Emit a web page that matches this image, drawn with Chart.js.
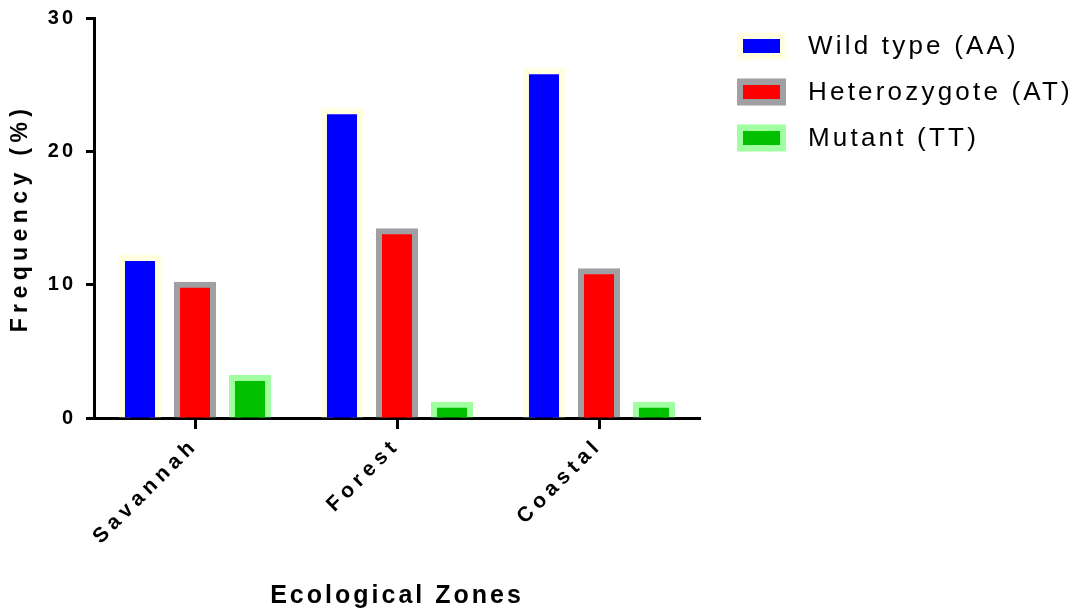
<!DOCTYPE html>
<html>
<head>
<meta charset="utf-8">
<title>Genotype frequency by ecological zone</title>
<script src="https://cdn.jsdelivr.net/npm/chart.js@4/dist/chart.umd.min.js"></script>
<style>
  html, body { margin: 0; padding: 0; background: #ffffff; }
  #wrap { width: 1076px; height: 611px; position: relative; }
  canvas { display: block; }
</style>
</head>
<body>
<div id="wrap"><canvas id="chart" width="1076" height="611"></canvas></div>
<script>
// Genotype frequencies (%) per ecological zone
const zones = ['Savannah', 'Forest', 'Coastal'];
const wildType = [12, 23, 26];
const heterozygote = [10, 14, 11];
const mutant = [3, 1, 1];
const seriesNames = ['Wild type (AA)', 'Heterozygote (AT)', 'Mutant (TT)'];
const yTickValues = [0, 10, 20, 30];

const FAMILY = '"Liberation Sans", Arial, Helvetica, sans-serif';

// Tracking (letter spacing, px) keyed by font size, so every text element
// keeps the wide, spaced-out lettering of the figure.
const tracking = { '20': 3, '21': 5, '23': 5.4, '25': 3, '26': 3.2 };

const fontDesc = Object.getOwnPropertyDescriptor(CanvasRenderingContext2D.prototype, 'font');
function useTracking(ctx) {
  Object.defineProperty(ctx, 'font', {
    configurable: true,
    get() { return fontDesc.get.call(this); },
    set(v) {
      fontDesc.set.call(this, v);
      const m = /(\d+(?:\.\d+)?)px/.exec(v);
      const s = m && tracking[m[1]] !== undefined ? tracking[m[1]] : 0;
      this.letterSpacing = s + 'px';
    }
  });
}

// Legend on the right: thick-bordered swatches followed by the series names
const swatchLegend = {
  id: 'swatchLegend',
  afterDraw(chart) {
    const { ctx, chartArea } = chart;
    ctx.save();
    ctx.font = '26px ' + FAMILY;
    ctx.textBaseline = 'middle';
    ctx.textAlign = 'left';
    chart.data.datasets.forEach((ds, i) => {
      const cy = chartArea.top + 28 + i * 46;
      const x0 = chartArea.right + 37;
      ctx.fillStyle = ds.borderColor;
      ctx.fillRect(x0, cy - 13.5, 49, 27);
      ctx.fillStyle = ds.backgroundColor;
      ctx.fillRect(x0 + 6, cy - 7, 37, 14);
      ctx.fillStyle = '#000000';
      ctx.fillText(ds.label, x0 + 71, cy + 1);
    });
    ctx.restore();
  }
};

const canvas = document.getElementById('chart');
const ctx = canvas.getContext('2d');
useTracking(ctx);

const barStyle = { borderWidth: 6, inflateAmount: 3, borderSkipped: 'start' };

new Chart(ctx, {
  type: 'bar',
  data: {
    labels: zones,
    datasets: [
      Object.assign({ label: seriesNames[0], data: wildType, backgroundColor: '#0000FF', borderColor: '#FFFFE0' }, barStyle),
      Object.assign({ label: seriesNames[1], data: heterozygote, backgroundColor: '#FF0000', borderColor: '#A0A0A4' }, barStyle),
      Object.assign({ label: seriesNames[2], data: mutant, backgroundColor: '#00C000', borderColor: '#A0FFA0' }, barStyle)
    ]
  },
  plugins: [swatchLegend],
  options: {
    responsive: false,
    devicePixelRatio: 1,
    animation: false,
    categoryPercentage: 0.817,
    barPercentage: 0.655,
    layout: { padding: { top: 18, right: 376, bottom: 0, left: 0 } },
    plugins: {
      legend: { display: false },
      tooltip: { enabled: false }
    },
    scales: {
      x: {
        offset: true,
        z: 1,
        grid: {
          display: true, offset: false, drawOnChartArea: false, drawTicks: true,
          tickLength: 11, tickWidth: 3, tickColor: '#000000'
        },
        border: { display: true, color: '#000000', width: 3 },
        ticks: {
          color: '#000000', autoSkip: false, minRotation: 45, maxRotation: 45, padding: 4,
          font: { family: FAMILY, size: 21, weight: 'bold' }
        },
        title: {
          display: true, text: 'Ecological Zones', color: '#000000',
          font: { family: FAMILY, size: 25, weight: 'bold' },
          padding: { top: 4, bottom: 0 }
        },
        afterFit(scale) { scale.height = 193; }
      },
      y: {
        min: 0, max: 30,
        z: 1,
        grid: {
          display: true, drawOnChartArea: false, drawTicks: true,
          tickLength: 8, tickWidth: 3, tickColor: '#000000'
        },
        border: { display: true, color: '#000000', width: 3 },
        ticks: {
          color: '#000000', padding: 10,
          font: { family: FAMILY, size: 20, weight: 'bold', lineHeight: 0.5 }
        },
        afterBuildTicks(scale) { scale.ticks = yTickValues.map(v => ({ value: v })); },
        title: {
          display: true, text: 'Frequency (%)', color: '#000000',
          font: { family: FAMILY, size: 23, weight: 'bold' },
          padding: { top: 6.5, bottom: 4 }
        },
        afterFit(scale) { scale.width = 94; }
      }
    }
  }
});
</script>
</body>
</html>
